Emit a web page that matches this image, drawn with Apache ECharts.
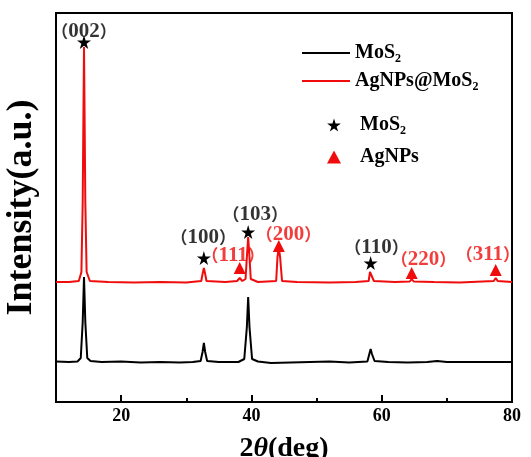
<!DOCTYPE html>
<html>
<head>
<meta charset="utf-8">
<script src="https://cdn.jsdelivr.net/npm/echarts@6/dist/echarts.min.js"></script>
<style>html,body{margin:0;padding:0;background:#fff}#c{width:531px;height:457px}</style>
</head>
<body>
<div id="c"></div>
<script>
// ---- data (2θ in degrees, intensity in arbitrary units) ----
const mos2Pattern = [
  [10,40.5],[12,40],[13.3,40.5],[13.8,44],[14.1,80],[14.3,125],[14.5,80],[14.8,44],[15.3,41],
  [17,40],[20,40.5],[23,39.5],[26,40],[29,39.5],[31,40],[32.2,41],[32.5,50],[32.7,59],[32.9,50],
  [33.2,41],[35,40],[38,40],[38.9,43],[39.3,75],[39.5,105],[39.7,75],[40.1,43],[41,40.5],[43,39],
  [46,39.5],[49,40],[52,40.5],[55,39.5],[57.8,40.5],[58.1,48],[58.3,53],[58.5,48],[58.9,41],
  [61,40],[64,39.5],[67,40],[68.5,41],[70,40],[73,40],[76,40],[80,40]
];
const agPattern = [
  [10,120],[12,120],[13.5,121],[13.9,130],[14.1,200],[14.3,355],[14.5,200],[14.7,130],[15.2,121],
  [18,120],[22,119.5],[26,120],[30,119.5],[32.3,121],[32.5,128],[32.7,134],[32.9,128],[33.1,121],
  [36,120],[37.8,121],[38.2,124],[38.6,121],[39.1,123],[39.3,145],[39.5,165],[39.7,145],[39.9,123],
  [41,120],[43.8,121],[44.0,145],[44.2,154],[44.4,145],[44.7,121],[47,120],[52,119.5],[56,120],
  [58,121],[58.2,130],[58.3,132],[58.5,128],[58.8,121],[62,120],[64.3,120.5],[64.6,123],[64.9,120.5],
  [68,120],[72,119.5],[77.2,121],[77.5,124],[77.8,121],[80,120]
];
const mos2Peaks = [[14.3,360],[32.7,144],[39.5,170],[58.3,139]];
const agPeaks = [[38.2,134],[44.2,156],[64.6,129],[77.5,132]];
const blackHkl = [[14.3,370,'002'],[32.6,164,'100'],[40.6,187,'103'],[59.2,154,'110']];
const redHkl = [[37.2,146,'111'],[45.7,167,'200'],[66.4,142,'220'],[76.3,147,'311']];
const xLabelValues = [20,40,60,80];
const xMinorTicks = [30,50,70];

const serif = "'Liberation Serif','Times New Roman',serif";
const cjk = "'Noto Sans CJK SC',sans-serif";
const RED = '#f00c0c';

function hklRich(color){
  return {
    p:{fontFamily:cjk,fontSize:17,color:color,fontWeight:'bold'},
    d:{fontFamily:serif,fontSize:21,fontWeight:'bold',color:color}
  };
}
const subRich = {
  b:{fontFamily:serif,fontSize:20,fontWeight:'bold',color:'#000'},
  s:{fontFamily:serif,fontSize:12,fontWeight:'bold',color:'#000',padding:[12,0,0,0]}
};
const legendNames = {
  'MoS2':'{b|MoS}{s|2}',
  'AgNPs@MoS2':'{b|AgNPs@MoS}{s|2}',
  'MoS2 peaks':'{b|MoS}{s|2}',
  'AgNPs':'{b|AgNPs}'
};
const star = 'path://M50,0 L61,35 L98,35 L68,57 L79,91 L50,70 L21,91 L32,57 L2,35 L39,35 Z';

const chart = echarts.init(document.getElementById('c'), null, {renderer:'canvas'});
chart.setOption({
  animation:false,
  backgroundColor:'#fff',
  grid:{left:56,right:19,top:13,bottom:55,show:true,borderColor:'#000',borderWidth:2,backgroundColor:'transparent',
        containLabel:false,outerBoundsMode:'none'},
  legend:[
    {data:[{name:'MoS2',icon:'rect'},{name:'AgNPs@MoS2',icon:'rect'}],orient:'vertical',left:297,top:38,itemWidth:48,itemHeight:2,itemGap:6,
     formatter:n=>legendNames[n],textStyle:{rich:subRich}},
    {data:['MoS2 peaks','AgNPs'],orient:'vertical',left:322,top:110,itemWidth:14,itemHeight:13,itemGap:10,
     formatter:n=>legendNames[n],textStyle:{rich:subRich,padding:[0,0,0,14]}}
  ],
  xAxis:[{
    type:'value',min:10,max:80,
    name:'{n|2}{t|θ}{n|(deg)}',nameLocation:'middle',nameGap:33,
    nameTextStyle:{rich:{n:{fontFamily:serif,fontSize:28,fontWeight:'bold',color:'#000'},t:{fontFamily:serif,fontSize:28,fontWeight:'bold',fontStyle:'italic',color:'#000'}}},
    axisLine:{show:true,lineStyle:{color:'#000',width:2}},
    axisTick:{show:true,inside:true,length:7,lineStyle:{color:'#000',width:2},customValues:xLabelValues},
    axisLabel:{show:true,customValues:xLabelValues,margin:5,fontFamily:serif,fontSize:18,fontWeight:'bold',color:'#000'},
    splitLine:{show:false}
  },{
    type:'value',min:10,max:80,position:'bottom',
    axisLine:{show:false},
    axisTick:{show:true,inside:true,length:4,lineStyle:{color:'#000',width:2},customValues:xMinorTicks},
    axisLabel:{show:false},splitLine:{show:false}
  }],
  yAxis:{
    type:'value',min:0,max:389,
    name:'Intensity(a.u.)',nameLocation:'middle',nameGap:16,
    nameTextStyle:{fontFamily:serif,fontSize:36,fontWeight:'bold',color:'#000'},
    axisLine:{show:true,lineStyle:{color:'#000',width:2}},
    axisTick:{show:false},axisLabel:{show:false},splitLine:{show:false}
  },
  series:[
    {name:'MoS2',type:'line',data:mos2Pattern,symbol:'none',lineStyle:{color:'#000',width:2},itemStyle:{color:'#000'},z:2},
    {name:'AgNPs@MoS2',type:'line',data:agPattern,symbol:'none',lineStyle:{color:RED,width:2},itemStyle:{color:RED},z:3},
    {name:'MoS2 peaks',type:'scatter',data:mos2Peaks,symbol:star,symbolSize:14,itemStyle:{color:'#000',opacity:1},z:5},
    {name:'AgNPs',type:'scatter',data:agPeaks,symbol:'triangle',symbolSize:12,itemStyle:{color:RED,opacity:1},z:5},
    {name:'hklBlack',type:'scatter',data:blackHkl,symbolSize:0,z:6,
     label:{show:true,position:'inside',formatter:p=>'{p|（}{d|'+p.data[2]+'}{p|）}',rich:hklRich('#000')}},
    {name:'hklRed',type:'scatter',data:redHkl,symbolSize:0,z:6,
     label:{show:true,position:'inside',formatter:p=>'{p|（}{d|'+p.data[2]+'}{p|）}',rich:hklRich(RED)}}
  ]
});
</script>
</body>
</html>
